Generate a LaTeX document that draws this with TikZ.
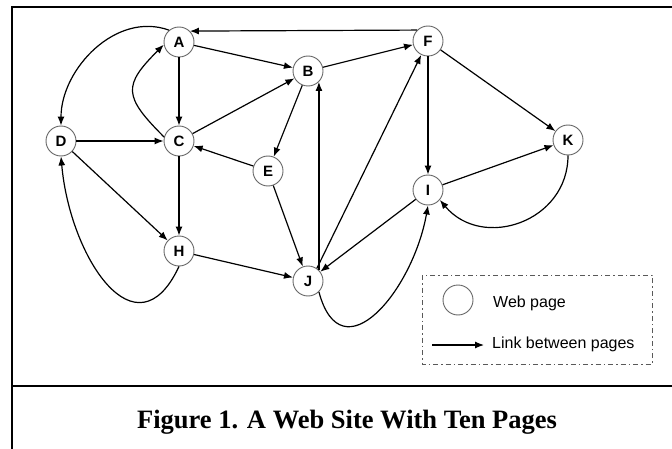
\documentclass[tikz,border=0pt]{standalone}
\usepackage{fontspec}
\setmainfont{Liberation Serif}
\setsansfont{Liberation Sans}
\usepackage{xcolor}
\usepackage{tikz}
\usetikzlibrary{arrows.meta}

\tikzset{
  page/.style={circle, draw=gray!80!black, line width=0.9pt, fill=white,
    minimum size=30pt, inner sep=0pt,
    font=\sffamily\bfseries\fontsize{15}{16}\selectfont},
  link/.style={->, line width=1.2pt},
  legendtext/.style={anchor=base west, inner sep=0pt,
    font=\sffamily\fontsize{16}{18}\selectfont}
}

\begin{document}
\begin{tikzpicture}[x=1pt, y=1pt, >={Latex[length=9pt,width=7pt]}]
        \useasboundingbox (0,0) rectangle (672,448);
        % Outer frame and caption strip
        \draw[line width=2pt] (12,-20) rectangle (700,440.7);
        \draw[line width=2pt] (12,61.7) -- (700,61.7);
        \node[anchor=base, inner sep=0pt,
          font=\bfseries\fontsize{26.5}{30}\selectfont] (caption) at (347,20)
          {Figure 1. A Web Site With Ten Pages};
        % Pages
        \node[page] (A) at (179,406) {A};
        \node[page] (B) at (308,377) {B};
        \node[page] (C) at (179,307) {C};
        \node[page] (D) at (61,307) {D};
        \node[page] (E) at (268,277) {E};
        \node[page] (F) at (428,407) {F};
        \node[page] (K) at (568,308) {K};
        \node[page] (I) at (428,258) {I};
        \node[page] (H) at (179,197) {H};
        \node[page] (J) at (308,167) {J};
        % Straight links
        \foreach \from/\to in {A/B, A/C, C/B, D/C, D/H, C/H, B/E, B/F,
          E/C, E/J, H/J, I/J, F/I, F/K, I/K}{
          \draw[link] (\from) -- (\to);
        }
        \draw[link] (F.135) -- (A.45);
        \draw[link] (J.45) -- (B.-45);
        \draw[link] (J.55) -- (F);
        % Curved links
        \draw[link] (A.130) to[out=160,in=90] (D.north);
        \draw[link] (C.165) to[out=135,in=225,looseness=1.6] (A.190);
        \draw[link] (H.south) to[out=-115,in=-85,looseness=1.6] (D.south);
        \draw[link] (J.-45) to[out=-75,in=-100,looseness=1.6] (I.south);
        \draw[link] (K.south) to[out=-90,in=-50,looseness=1.25] (I.-40);
        % Legend
        \draw[gray!70!black, line width=1pt,
          dash pattern=on 5pt off 3pt on 1.5pt off 3pt]
          (422,173) rectangle (652,84);
        \node[page] (legpage) at (458,148) {};
        \node[legendtext] (legpagetext) at (493,141) {Web page};
        \coordinate (legstart) at (432,103);
        \coordinate (legend) at (484,103);
        \draw[link] (legstart) -- (legend);
        \node[legendtext] (leglinktext) at (492,100) {Link between pages};
      \end{tikzpicture}
\end{document}
